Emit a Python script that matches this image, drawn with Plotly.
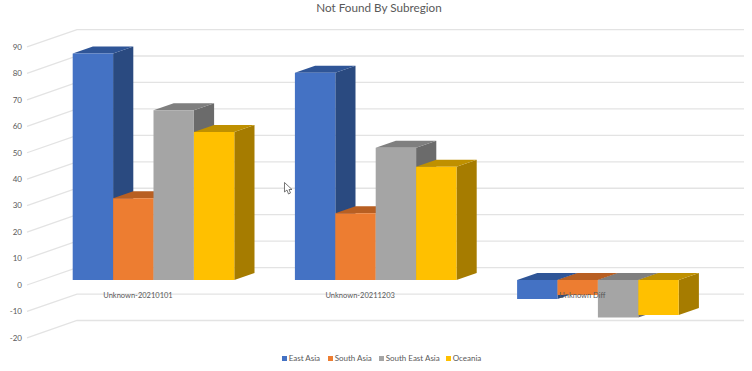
import plotly.graph_objects as go

categories = ["Unknown-20210101", "Unknown-20211203", "Unknown Diff"]
series_names = ["East Asia", "South Asia", "South East Asia", "Oceania"]
east_asia = [85.6, 78.4, -7.2]
south_asia = [30.9, 25.2, -5.7]
south_east_asia = [64.2, 50.0, -14.2]
oceania = [56.0, 42.8, -13.2]
all_values = [east_asia, south_asia, south_east_asia, oceania]
tick_values = [90, 80, 70, 60, 50, 40, 30, 20, 10, 0, -10, -20]

front_colors = ["#4472C4", "#ED7D31", "#A5A5A5", "#FFC000"]
side_colors = ["#2A4A80", "#A85A20", "#6B6B6B", "#A67C00"]
top_colors = ["#2F5597", "#B85F22", "#7F7F7F", "#BF9000"]

W, H = 752, 371
LEFT = 23
PX_PER_CAT = 222.2
CAT0_PX = 153.5
PX_PER_UNIT = 2.645
BAR_ZERO_PX = 280
WALL_ZERO_PX = 285


def xd(px):
    return (px - CAT0_PX) / PX_PER_CAT


def span(zero_px):
    return [-(H - zero_px) / PX_PER_UNIT, zero_px / PX_PER_UNIT]


BAR_W = 40.4 / PX_PER_CAT
DEPTH_X = 20.2 / PX_PER_CAT
DEPTH_Y = 7.0 / PX_PER_UNIT
WALL_RISE = 17.4 / PX_PER_UNIT

fig = go.Figure()

# Walls: side wall then back wall, one polyline per tick
gx, gy = [], []
for v in tick_values:
    gx += [xd(27), xd(77), xd(744), None]
    gy += [v, v + WALL_RISE, v + WALL_RISE, None]
fig.add_trace(go.Scatter(x=gx, y=gy, mode="lines", yaxis="y", showlegend=False,
                         hoverinfo="skip", line=dict(color="#E3E3E3", width=1.3)))

z = 1
for j, (name, vals) in enumerate(zip(series_names, all_values)):
    offset = (j - 2) * BAR_W
    sx, sy, tx, ty = [], [], [], []
    for i, v in enumerate(vals):
        x0 = i + offset
        x1 = x0 + BAR_W
        hi, lo = max(v, 0), min(v, 0)
        sx += [x1, x1 + DEPTH_X, x1 + DEPTH_X, x1, x1, None]
        sy += [lo, lo + DEPTH_Y, hi + DEPTH_Y, hi, lo, None]
        tx += [x0, x0 + DEPTH_X, x1 + DEPTH_X, x1, x0, None]
        ty += [hi, hi + DEPTH_Y, hi + DEPTH_Y, hi, hi, None]
    fig.add_trace(go.Scatter(x=sx, y=sy, mode="none", fill="toself", fillcolor=side_colors[j],
                             yaxis="y2", showlegend=False, hoverinfo="skip", zorder=z))
    fig.add_trace(go.Scatter(x=tx, y=ty, mode="none", fill="toself", fillcolor=top_colors[j],
                             yaxis="y2", showlegend=False, hoverinfo="skip", zorder=z + 1))
    fig.add_trace(go.Bar(x=list(range(len(categories))), y=vals, name=name, width=BAR_W,
                         offset=offset, marker=dict(color=front_colors[j], line=dict(width=0)),
                         yaxis="y2", showlegend=False, zorder=z + 2))
    z += 3

# Category labels, printed over the bars
fig.add_trace(go.Scatter(x=[i - 15.5 / PX_PER_CAT for i in range(len(categories))],
                         y=[(BAR_ZERO_PX - 295.7) / PX_PER_UNIT] * len(categories),
                         text=categories, mode="text", textposition="middle center",
                         textfont=dict(family="Lato", size=7.5, color="#595959"),
                         yaxis="y2", showlegend=False, hoverinfo="skip", zorder=z))

# Legend row
legend_px = [284.5, 330.5, 381.5, 448.5]
fig.add_trace(go.Scatter(x=[xd(p) for p in legend_px],
                         y=[(BAR_ZERO_PX - 358.5) / PX_PER_UNIT] * 4,
                         text=series_names, mode="markers+text", textposition="middle right",
                         marker=dict(symbol="square", size=5, color=front_colors),
                         textfont=dict(family="Lato", size=8, color="#595959"),
                         yaxis="y2", showlegend=False, hoverinfo="skip", zorder=z))


# Screen-capture mouse pointer present in the reference
def cur(px, py):
    return f"{(px - LEFT) / (W - LEFT):.4f} {1 - py / H:.4f}"


pts = [(284.5, 182.5), (284.5, 192), (287, 190), (288.5, 194), (290.5, 193), (289, 189.5), (292, 189.5)]
cursor_path = "M " + " L ".join(cur(*p) for p in pts) + " Z"

fig.update_layout(
    width=W, height=H, autosize=False,
    margin=dict(l=LEFT, r=0, t=0, b=0),
    paper_bgcolor="white", plot_bgcolor="white",
    barmode="overlay",
    title=dict(text="Not Found By Subregion", x=379 / W, xanchor="center", y=1 - 7.5 / H, yanchor="middle",
               font=dict(family="Lato", size=11.7, color="#595959")),
    xaxis=dict(range=[xd(LEFT), xd(W)], visible=False, fixedrange=True),
    yaxis=dict(range=span(WALL_ZERO_PX), tickmode="array", tickvals=tick_values,
               ticktext=[str(v) for v in tick_values], showgrid=False, zeroline=False,
               showline=False, ticks="", fixedrange=True,
               tickfont=dict(family="Lato", size=8, color="#595959")),
    yaxis2=dict(range=span(BAR_ZERO_PX), overlaying="y", visible=False, fixedrange=True),
    shapes=[dict(type="path", xref="paper", yref="paper", path=cursor_path,
                 fillcolor="white", line=dict(color="#555555", width=0.8))],
)
# The page's default 8px body margin would push the whole chart off its place
fig.write_html("out.html", config={"displayModeBar": False},
               post_script="document.body.style.margin='0';")
